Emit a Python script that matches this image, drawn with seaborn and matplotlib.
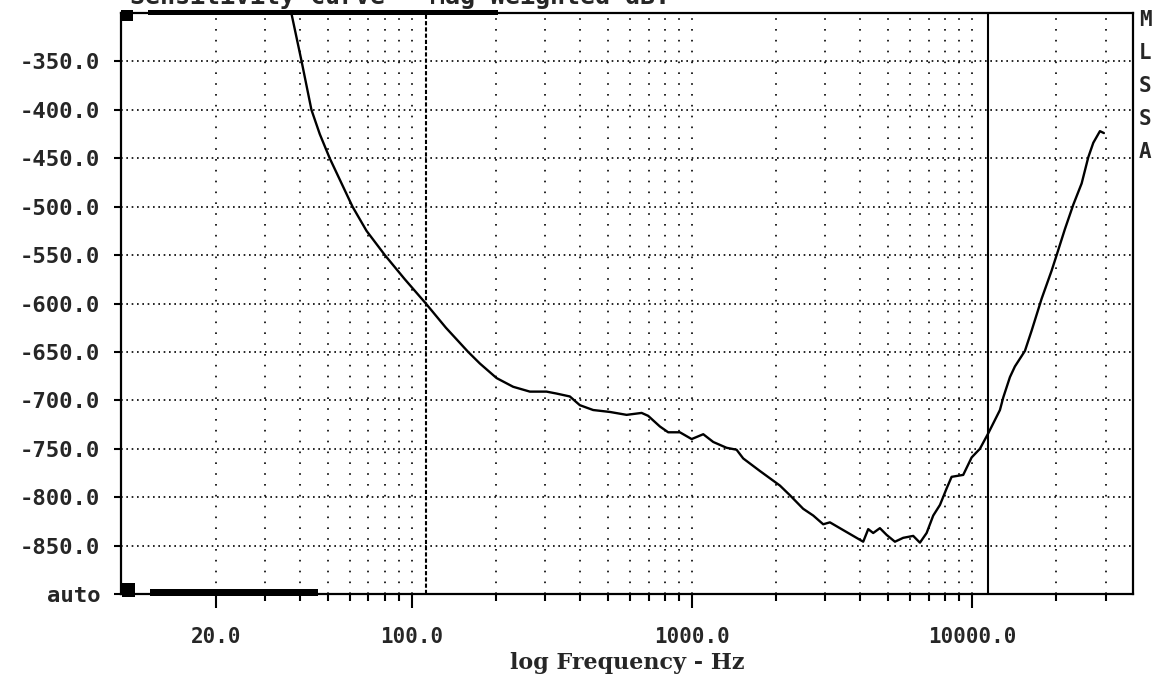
import matplotlib
matplotlib.use("Agg")
import matplotlib.pyplot as plt
import matplotlib.ticker as mticker
from matplotlib.patches import Rectangle
import pandas as pd
import seaborn as sns

# curve (Hz, level)
freq_hz = [36.5, 40.4, 43.8, 46.9, 50.9, 61.4, 68.9, 80.1, 94.4, 112.2,
           132.3, 158.9, 175, 200.7, 230, 263.9, 302.7, 328.6, 366.6, 398,
           444, 509.6, 584.6, 661.5, 698, 768.7, 823, 906, 998, 1098,
           1192, 1330, 1444, 1525, 1750, 2062, 2239, 2497, 2713, 2944,
           3111, 3470, 3768, 4091, 4263, 4441, 4692, 4960, 5309, 5683,
           6171, 6521, 6890, 7275, 7689, 8121, 8462, 9310, 9975, 10680,
           11440, 12590, 12940, 13670, 14240, 15460, 16340, 17740, 19260, 20070,
           21490, 23010, 24650, 26030, 27130, 28650, 29600]
level = [-290, -350, -400, -425, -450, -500, -525, -550, -575, -600,
         -625, -650, -662, -677, -686, -691, -691, -693, -696, -705,
         -710, -712, -715, -713, -716, -727, -733, -733, -740, -735,
         -743, -749, -751, -760, -773, -788, -798, -812, -819, -828,
         -826, -834, -840, -846, -833, -837, -832, -839, -846, -842,
         -840, -847, -837, -819, -808, -791, -779, -777, -759, -750,
         -734, -710, -697, -676, -665, -649, -628, -595, -566, -550,
         -523, -498, -476, -449, -434, -422, -424]

y_ticks = [-900, -850, -800, -750, -700, -650, -600, -550, -500, -450, -400, -350]
y_tick_labels = ["auto", "-850.0", "-800.0", "-750.0", "-700.0", "-650.0",
                 "-600.0", "-550.0", "-500.0", "-450.0", "-400.0", "-350.0"]
x_ticks = [20, 100, 1000, 10000]
x_tick_labels = ["20.0", "100.0", "1000.0", "10000.0"]
cursor_lo = 112
cursor_hi = 11400
side_letters = ["M", "L", "S", "S", "A"]
title_text = "Sensitivity Curve - Mag Weighted dB."
x_label = "log Frequency - Hz"

sns.set_style("white")
plt.rcParams["font.family"] = ["DejaVu Sans Mono", "DejaVu Sans"]
plt.rcParams["font.weight"] = "bold"

fig = plt.figure(figsize=(11.58, 6.77), dpi=100)
ax = fig.add_axes([121 / 1158, 83 / 677, 1012 / 1158, 581 / 677])

df = pd.DataFrame({"freq": freq_hz, "level": level})
sns.lineplot(data=df, x="freq", y="level", ax=ax, color="black", lw=1.7, zorder=5)

ax.set_xscale("log")
ax.set_xlim(9.15, 37600)
ax.set_ylim(-900, -300)

minor = [m * 10 ** d for d in range(1, 5) for m in range(2, 10)
         if 20 <= m * 10 ** d <= 30000 and m * 10 ** d not in x_ticks]
ax.xaxis.set_major_locator(mticker.FixedLocator(x_ticks))
ax.xaxis.set_minor_locator(mticker.FixedLocator(minor))
ax.xaxis.set_major_formatter(mticker.FixedFormatter(x_tick_labels))
ax.xaxis.set_minor_formatter(mticker.NullFormatter())
ax.set_yticks(y_ticks)
ax.set_yticklabels(y_tick_labels)

ax.tick_params(axis="x", which="major", direction="out", length=10, width=1.5,
               pad=14, labelsize=15, color="black", bottom=True)
ax.tick_params(axis="x", which="minor", direction="out", length=5, width=1.5,
               color="black", bottom=True)
ax.tick_params(axis="y", direction="out", length=5, width=1.5, pad=10,
               labelsize=16, color="black", left=True)

ax.grid(False)
ax.grid(True, axis="y", which="major", color="black", lw=1.2, linestyle=(0, (1, 2.2)))
ax.grid(True, axis="x", which="both", color="black", lw=1.2, linestyle=(0, (1, 5.5)))

for s in ax.spines.values():
    s.set_color("black")
    s.set_linewidth(1.6)

ax.axvline(cursor_lo, color="black", lw=1.5, linestyle=(0, (2, 1)), zorder=4)
ax.axvline(cursor_hi, color="black", lw=1.5, zorder=4)

ax.set_xlabel(x_label, family="DejaVu Serif", fontsize=16, fontweight="bold", labelpad=3)
ax.set_ylabel("")

# scroll-bar like blocks on the frame
for (x0, x1, y0, y1) in [(0.0, 0.0119, 0.986, 1.005), (0.0267, 0.3725, 0.9966, 1.005),
                         (0.001, 0.0138, -0.005, 0.019), (0.0287, 0.1947, -0.0034, 0.0086)]:
    ax.add_patch(Rectangle((x0, y0), x1 - x0, y1 - y0, transform=ax.transAxes,
                           facecolor="black", edgecolor="none", clip_on=False, zorder=6))

for i, ch in enumerate(side_letters):
    fig.text(1145 / 1158, 1 - (20 + i * 33) / 677, ch, ha="center", va="center",
             fontsize=15, fontweight="bold")

fig.text(130 / 1158, 1 - 4 / 677, title_text, ha="left", va="baseline",
         fontsize=18, fontweight="bold")

fig.savefig("out.png", dpi=100)
